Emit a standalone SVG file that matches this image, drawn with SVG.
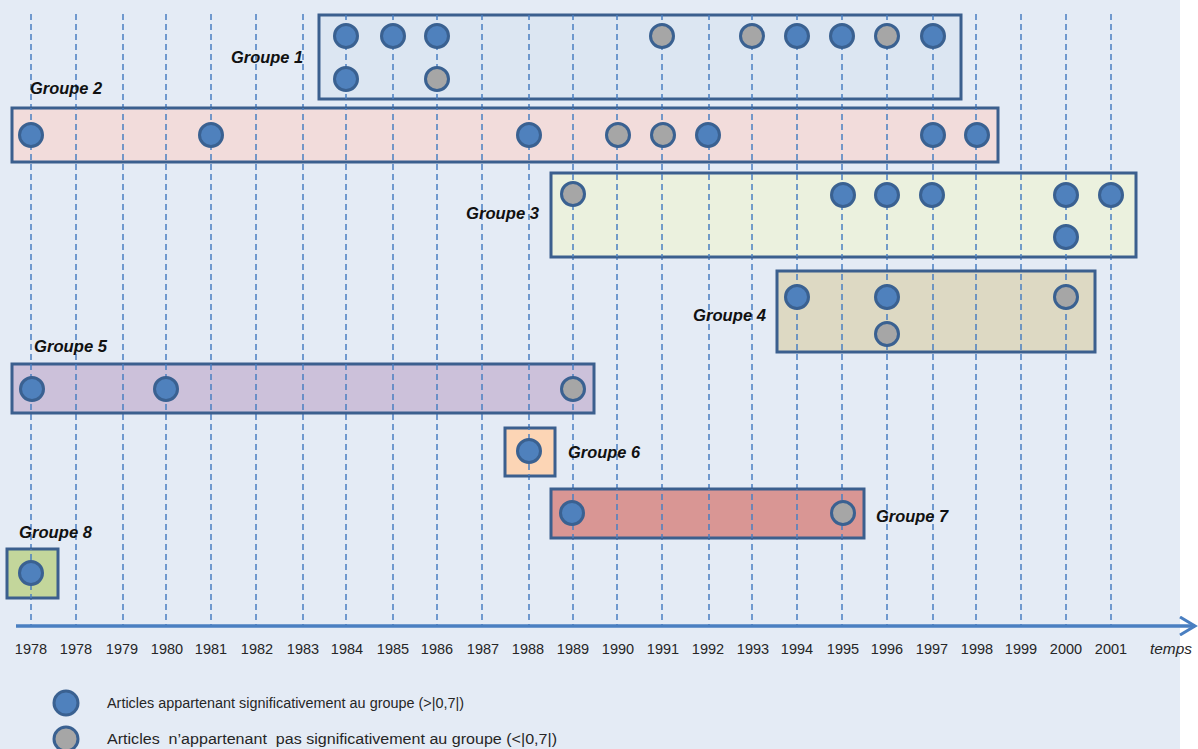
<svg xmlns="http://www.w3.org/2000/svg" xmlns:xlink="http://www.w3.org/1999/xlink" width="1198" height="749" viewBox="0 0 1198 749">
<style>
.box{stroke:#3b5f8e;stroke-width:3}
.b{fill:#4f81bd;stroke:#3a6191;stroke-width:3}
.g{fill:#a6a6a6;stroke:#3a6191;stroke-width:3}
.lbl{font-family:"Liberation Sans",Arial,sans-serif;font-weight:bold;font-style:italic;font-size:17px;fill:#111}
.yr{font-family:"Liberation Sans",Arial,sans-serif;font-size:14.5px;fill:#262626;text-anchor:middle}
.leg{font-family:"Liberation Sans",Arial,sans-serif;font-size:15.5px;fill:#262626}
.grid line{stroke:#4a7fc1;stroke-width:1.5;stroke-dasharray:6 4}
</style>
<defs>
<g id="gridlines" class="grid">
<line x1="31" y1="14" x2="31" y2="626"/>
<line x1="76" y1="14" x2="76" y2="626"/>
<line x1="123" y1="14" x2="123" y2="626"/>
<line x1="166" y1="14" x2="166" y2="626"/>
<line x1="211" y1="14" x2="211" y2="626"/>
<line x1="256" y1="14" x2="256" y2="626"/>
<line x1="303" y1="14" x2="303" y2="626"/>
<line x1="346" y1="14" x2="346" y2="626"/>
<line x1="393" y1="14" x2="393" y2="626"/>
<line x1="437" y1="14" x2="437" y2="626"/>
<line x1="482" y1="14" x2="482" y2="626"/>
<line x1="529" y1="14" x2="529" y2="626"/>
<line x1="573" y1="14" x2="573" y2="626"/>
<line x1="617" y1="14" x2="617" y2="626"/>
<line x1="662" y1="14" x2="662" y2="626"/>
<line x1="709" y1="14" x2="709" y2="626"/>
<line x1="752" y1="14" x2="752" y2="626"/>
<line x1="797" y1="14" x2="797" y2="626"/>
<line x1="842" y1="14" x2="842" y2="626"/>
<line x1="887" y1="14" x2="887" y2="626"/>
<line x1="933" y1="14" x2="933" y2="626"/>
<line x1="976" y1="14" x2="976" y2="626"/>
<line x1="1021" y1="14" x2="1021" y2="626"/>
<line x1="1066" y1="14" x2="1066" y2="626"/>
<line x1="1111" y1="14" x2="1111" y2="626"/>
</g>
<clipPath id="c1"><rect x="319" y="15" width="642" height="84"/></clipPath>
<clipPath id="c2"><rect x="12" y="108" width="986" height="54"/></clipPath>
<clipPath id="c3"><rect x="551" y="173" width="585" height="84"/></clipPath>
<clipPath id="c4"><rect x="777" y="271" width="318" height="81"/></clipPath>
<clipPath id="c5"><rect x="12" y="364" width="582" height="49"/></clipPath>
<clipPath id="c6"><rect x="505" y="428" width="50" height="48"/></clipPath>
<clipPath id="c7"><rect x="551" y="489" width="313" height="49"/></clipPath>
<clipPath id="c8"><rect x="7" y="549" width="51" height="49"/></clipPath>
<marker id="arr" markerWidth="20" markerHeight="20" refX="16" refY="10" orient="auto" markerUnits="userSpaceOnUse">
<path d="M1,1 L16,10 L1,19" fill="none" stroke="#4a7fc1" stroke-width="3"/>
</marker>
</defs>
<rect x="0" y="0" width="1180" height="749" fill="#e4ebf5"/>
<use xlink:href="#gridlines" href="#gridlines"/>

<g id="groupe1">
<rect class="box" x="319" y="15" width="642" height="84" fill="#dce6f2"/>
<use xlink:href="#gridlines" href="#gridlines" clip-path="url(#c1)"/>
<circle class="b" cx="346" cy="36" r="11.5"/>
<circle class="b" cx="393" cy="36" r="11.5"/>
<circle class="b" cx="437" cy="36" r="11.5"/>
<circle class="g" cx="662" cy="36" r="11.5"/>
<circle class="g" cx="752" cy="36" r="11.5"/>
<circle class="b" cx="797" cy="36" r="11.5"/>
<circle class="b" cx="842" cy="36" r="11.5"/>
<circle class="g" cx="887" cy="36" r="11.5"/>
<circle class="b" cx="933" cy="36" r="11.5"/>
<circle class="b" cx="346" cy="79" r="11.5"/>
<circle class="g" cx="437" cy="79" r="11.5"/>
<text class="lbl" x="231" y="63" textLength="72" lengthAdjust="spacingAndGlyphs">Groupe 1</text>
</g>

<g id="groupe2">
<rect class="box" x="12" y="108" width="986" height="54" fill="#f2dcdb"/>
<use xlink:href="#gridlines" href="#gridlines" clip-path="url(#c2)"/>
<circle class="b" cx="31" cy="135" r="11.5"/>
<circle class="b" cx="211" cy="135" r="11.5"/>
<circle class="b" cx="529" cy="135" r="11.5"/>
<circle class="g" cx="618" cy="135" r="11.5"/>
<circle class="g" cx="663" cy="135" r="11.5"/>
<circle class="b" cx="708" cy="135" r="11.5"/>
<circle class="b" cx="933" cy="135" r="11.5"/>
<circle class="b" cx="977" cy="135" r="11.5"/>
<text class="lbl" x="30" y="94" textLength="72" lengthAdjust="spacingAndGlyphs">Groupe 2</text>
</g>

<g id="groupe3">
<rect class="box" x="551" y="173" width="585" height="84" fill="#ebf1de"/>
<use xlink:href="#gridlines" href="#gridlines" clip-path="url(#c3)"/>
<circle class="g" cx="573" cy="194" r="11.5"/>
<circle class="b" cx="843" cy="195" r="11.5"/>
<circle class="b" cx="887" cy="195" r="11.5"/>
<circle class="b" cx="932" cy="195" r="11.5"/>
<circle class="b" cx="1066" cy="195" r="11.5"/>
<circle class="b" cx="1111" cy="195" r="11.5"/>
<circle class="b" cx="1066" cy="237" r="11.5"/>
<text class="lbl" x="466" y="219" textLength="73" lengthAdjust="spacingAndGlyphs">Groupe 3</text>
</g>

<g id="groupe4">
<rect class="box" x="777" y="271" width="318" height="81" fill="#ddd9c3"/>
<use xlink:href="#gridlines" href="#gridlines" clip-path="url(#c4)"/>
<circle class="b" cx="797" cy="297" r="11.5"/>
<circle class="b" cx="887" cy="297" r="11.5"/>
<circle class="g" cx="1066" cy="297" r="11.5"/>
<circle class="g" cx="887" cy="334" r="11.5"/>
<text class="lbl" x="693" y="321" textLength="73" lengthAdjust="spacingAndGlyphs">Groupe 4</text>
</g>

<g id="groupe5">
<rect class="box" x="12" y="364" width="582" height="49" fill="#ccc1da"/>
<use xlink:href="#gridlines" href="#gridlines" clip-path="url(#c5)"/>
<circle class="b" cx="32" cy="389" r="11.5"/>
<circle class="b" cx="166" cy="389" r="11.5"/>
<circle class="g" cx="573" cy="389" r="11.5"/>
<text class="lbl" x="34" y="352" textLength="73" lengthAdjust="spacingAndGlyphs">Groupe 5</text>
</g>

<g id="groupe6">
<rect class="box" x="505" y="428" width="50" height="48" fill="#fcd5b5"/>
<use xlink:href="#gridlines" href="#gridlines" clip-path="url(#c6)"/>
<circle class="b" cx="529" cy="451" r="11.5"/>
<text class="lbl" x="568" y="458" textLength="72" lengthAdjust="spacingAndGlyphs">Groupe 6</text>
</g>

<g id="groupe7">
<rect class="box" x="551" y="489" width="313" height="49" fill="#d99694"/>
<use xlink:href="#gridlines" href="#gridlines" clip-path="url(#c7)"/>
<circle class="b" cx="572" cy="513" r="11.5"/>
<circle class="g" cx="843" cy="513" r="11.5"/>
<text class="lbl" x="876" y="522" textLength="72" lengthAdjust="spacingAndGlyphs">Groupe 7</text>
</g>

<g id="groupe8">
<rect class="box" x="7" y="549" width="51" height="49" fill="#c3d69b"/>
<use xlink:href="#gridlines" href="#gridlines" clip-path="url(#c8)"/>
<circle class="b" cx="31" cy="573" r="11.5"/>
<text class="lbl" x="19" y="538" textLength="73" lengthAdjust="spacingAndGlyphs">Groupe 8</text>
</g>

<g id="connectors">
<line x1="16" y1="626" x2="1195" y2="626" stroke="#4a7fc1" stroke-width="3.5" marker-end="url(#arr)"/>
</g>

<g id="axis-labels">
<text class="yr" x="31" y="654">1978</text>
<text class="yr" x="76" y="654">1978</text>
<text class="yr" x="122" y="654">1979</text>
<text class="yr" x="167" y="654">1980</text>
<text class="yr" x="211" y="654">1981</text>
<text class="yr" x="257" y="654">1982</text>
<text class="yr" x="303" y="654">1983</text>
<text class="yr" x="347" y="654">1984</text>
<text class="yr" x="393" y="654">1985</text>
<text class="yr" x="437" y="654">1986</text>
<text class="yr" x="483" y="654">1987</text>
<text class="yr" x="528" y="654">1988</text>
<text class="yr" x="573" y="654">1989</text>
<text class="yr" x="618" y="654">1990</text>
<text class="yr" x="663" y="654">1991</text>
<text class="yr" x="708" y="654">1992</text>
<text class="yr" x="753" y="654">1993</text>
<text class="yr" x="797" y="654">1994</text>
<text class="yr" x="843" y="654">1995</text>
<text class="yr" x="887" y="654">1996</text>
<text class="yr" x="932" y="654">1997</text>
<text class="yr" x="977" y="654">1998</text>
<text class="yr" x="1021" y="654">1999</text>
<text class="yr" x="1066" y="654">2000</text>
<text class="yr" x="1111" y="654">2001</text>
<text class="yr" x="1171" y="654" font-style="italic" textLength="42" lengthAdjust="spacingAndGlyphs">temps</text>
</g>

<g id="legend">
<circle class="b" cx="66" cy="703" r="12"/>
<circle class="g" cx="66" cy="739" r="12"/>
<text class="leg" x="107" y="708" textLength="357" lengthAdjust="spacingAndGlyphs">Articles appartenant significativement au groupe (&gt;|0,7|)</text>
<text class="leg" x="107" y="744" xml:space="preserve" textLength="450" lengthAdjust="spacingAndGlyphs">Articles  n’appartenant  pas significativement au groupe (&lt;|0,7|)</text>
</g>
</svg>
